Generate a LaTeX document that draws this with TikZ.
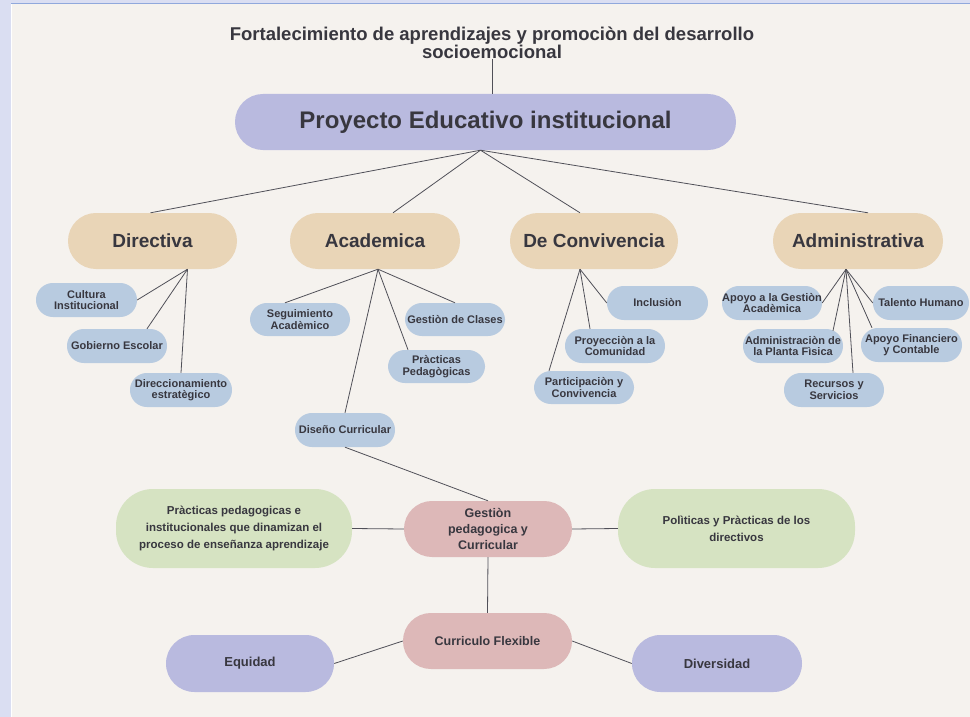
\documentclass[tikz,border=0pt]{standalone}
\usepackage{fontspec}
\setmainfont{Liberation Sans}
\usetikzlibrary{calc}
\definecolor{bgc}{HTML}{F5F2EE}
\definecolor{stripc}{HTML}{DADEF2}
\definecolor{topline}{HTML}{90A8DC}
\definecolor{lavc}{HTML}{B9BADF}
\definecolor{tanc}{HTML}{E9D5B7}
\definecolor{bluec}{HTML}{B8CBE0}
\definecolor{pinkc}{HTML}{DDB8B8}
\definecolor{greenc}{HTML}{D6E3C2}
\definecolor{txtc}{HTML}{38373F}
\definecolor{linec}{HTML}{505058}
\tikzset{
  base/.style={inner sep=0pt, align=center, text=txtc, font=\bfseries},
  top/.style={base, fill=lavc, minimum height=56pt, rounded corners=27.9pt, font=\bfseries\fontsize{24}{26}\selectfont},
  lvtwo/.style={base, fill=tanc, minimum height=56pt, rounded corners=27.9pt, font=\bfseries\fontsize{19}{22}\selectfont},
  lvthree/.style={base, fill=bluec, minimum height=34pt, rounded corners=16.9pt, font=\bfseries\fontsize{11}{11.5}\selectfont},
  pinkbox/.style={base, fill=pinkc, minimum height=56pt, rounded corners=27.9pt, font=\bfseries\fontsize{12.5}{16}\selectfont},
  greenbox/.style={base, fill=greenc, minimum height=79pt, rounded corners=37pt, font=\bfseries\fontsize{11.5}{17}\selectfont},
  lavbox/.style={base, fill=lavc, minimum height=57pt, rounded corners=28.4pt, font=\bfseries\fontsize{13}{16}\selectfont},
  conn/.style={draw=linec, line width=0.8pt},
}
\begin{document}
\begin{tikzpicture}[x=1pt,y=-1pt]
% background
\fill[bgc] (0,0) rectangle (970,717);
\fill[stripc] (0,0) rectangle (11,717);
\fill[stripc] (0,0) rectangle (970,3);
\fill[topline] (11,3) rectangle (970,4.5);
\fill[white] (11,4.5) rectangle (11.8,717);
\useasboundingbox (0,0) rectangle (970,717);

% title
\node[base, font=\bfseries\fontsize{18.5}{16}\selectfont] (title) at (492,43)
  {Fortalecimiento de aprendizajes y promociòn del desarrollo\\socioemocional};

% main
\node[top, minimum width=501pt] (pei) at (485.5,122) {Proyecto Educativo institucional};

% level two
\node[lvtwo, minimum width=169pt] (dir) at (152.5,241) {Directiva};
\node[lvtwo, minimum width=170pt] (aca) at (375,241) {Academica};
\node[lvtwo, minimum width=168pt] (conv) at (594,241) {De Convivencia};
\node[lvtwo, minimum width=170pt] (adm) at (858,241) {Administrativa};

% level three - Directiva
\node[lvthree, minimum width=101pt] (cult) at (86.5,300) {Cultura\\Institucional};
\node[lvthree, minimum width=100pt] (gob) at (117,346) {Gobierno Escolar};
\node[lvthree, minimum width=102pt] (direc) at (181,390) {Direccionamiento\\estratègico};
% Academica
\node[lvthree, minimum width=100pt, minimum height=33pt] (seg) at (300,319.5) {Seguimiento\\Acadèmico};
\node[lvthree, minimum width=100pt, minimum height=33pt] (gcl) at (455,319.5) {Gestiòn de Clases};
\node[lvthree, minimum width=97pt, minimum height=33pt] (prac) at (436.5,366.5) {Pràcticas\\Pedagògicas};
\node[lvthree, minimum width=100pt] (dis) at (345,430) {Diseño Curricular};
% Convivencia
\node[lvthree, minimum width=101pt] (inc) at (657.5,303) {Inclusiòn};
\node[lvthree, minimum width=100pt] (proy) at (615,346) {Proyecciòn a la\\Comunidad};
\node[lvthree, minimum width=100pt, minimum height=33pt] (part) at (584,387.5) {Participaciòn y\\Convivencia};
% Administrativa
\node[lvthree, minimum width=100pt] (apoyo) at (772,303) {Apoyo a la Gestiòn\\Acadèmica};
\node[lvthree, minimum width=96pt] (tal) at (921,303) {Talento Humano};
\node[lvthree, minimum width=100pt] (admpf) at (793,346) {Administraciòn de\\la Planta Fìsica};
\node[lvthree, minimum width=101pt] (fin) at (911.5,345) {Apoyo Financiero\\y Contable};
\node[lvthree, minimum width=100pt] (rec) at (834,390) {Recursos y\\Servicios};

% bottom
\node[pinkbox, minimum width=168pt] (gest) at (488,529) {Gestiòn\\pedagogica y\\Curricular};
\node[greenbox, minimum width=236pt] (lg) at (234,528.5) {Pràcticas pedagogicas e\\institucionales que dinamizan el\\proceso de enseñanza aprendizaje};
\node[greenbox, minimum width=237pt] (rg) at (736.5,528.5) {Polìticas y Pràcticas de los\\directivos};
\node[pinkbox, minimum width=169pt] (cf) at (487.5,641) {Curriculo Flexible};
\node[lavbox, minimum width=168pt] (eq) at (250,663.5) {Equidad};
\node[lavbox, minimum width=170pt] (div) at (717,663.5) {Diversidad};

% connectors
\draw[conn] (title.south) -- (title.south |- pei.north);
\coordinate (peib) at ($(pei.south)+(-5,0)$);
\draw[conn] (peib) -- ($(dir.north)+(-2,0)$);
\draw[conn] (peib) -- ($(aca.north)+(18,0)$);
\draw[conn] (peib) -- ($(conv.north)+(-14,0)$);
\draw[conn] (peib) -- ($(adm.north)+(10,0)$);

\coordinate (dirb) at ($(dir.south)+(35,0)$);
\draw[conn] (dirb) -- (cult.east);
\draw[conn] (dirb) -- ($(gob.north)+(30,0)$);
\draw[conn] (dirb) -- (direc.north);

\coordinate (acab) at ($(aca.south)+(3,0)$);
\draw[conn] (acab) -- ($(seg.north)+(-15,0)$);
\draw[conn] (acab) -- (gcl.north);
\draw[conn] (acab) -- ($(prac.north)+(-28.5,0)$);
\draw[conn] (acab) -- (dis.north);

\coordinate (convb) at ($(conv.south)+(-14,0)$);
\draw[conn] (convb) -- (inc.west);
\draw[conn] (convb) -- ($(proy.north)+(-25,0)$);
\draw[conn] (convb) -- ($(part.north)+(-35,0)$);

\coordinate (admb) at ($(adm.south)+(-12,0)$);
\draw[conn] (admb) -- (apoyo.east);
\draw[conn] (admb) -- (tal.west);
\draw[conn] (admb) -- ($(admpf.north)+(40,2)$);
\draw[conn] (admb) -- ($(fin.north)+(-39.5,0)$);
\draw[conn] (admb) -- ($(rec.north)+(19,0)$);

\draw[conn] (dis.south) -- (gest.north);
\draw[conn] (lg.east) -- (gest.west);
\draw[conn] (gest.east) -- (rg.west);
\draw[conn] (gest.south) -- (cf.north);
\draw[conn] (eq.east) -- (cf.west);
\draw[conn] (cf.east) -- (div.west);
\end{tikzpicture}
\end{document}
